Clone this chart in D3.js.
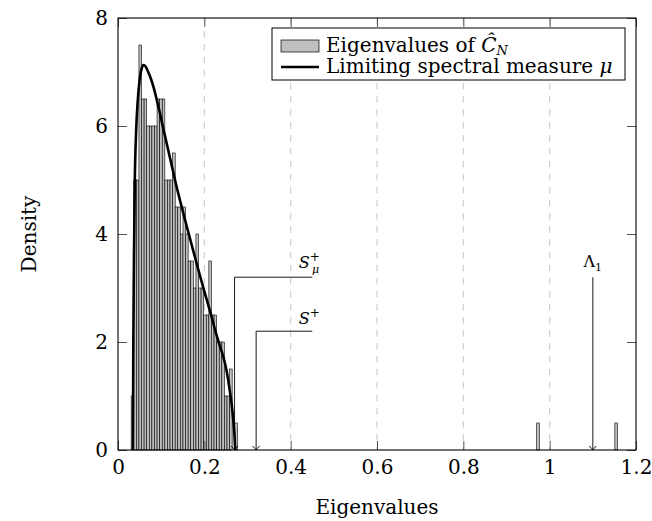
<!DOCTYPE html>
<html>
<head>
<meta charset="utf-8">
<script src="https://cdn.jsdelivr.net/npm/d3@7"></script>
<style>
body { margin: 0; background: #fff; }
text { font-family: "DejaVu Serif", "Liberation Serif", serif; fill: #000; }
</style>
</head>
<body>
<svg id="chart" width="652" height="521"></svg>
<script>
// histogram of the sample eigenvalues (density per bin)
var binStart = 0.0305;
var binWidth = 0.006;
var binHeights = [1, 5, 5, 7.5, 6.5, 6.5, 6, 6, 6, 6, 6.5, 6.5, 6.5, 5, 5, 5, 5.5, 4.5,
    4.5, 4, 4.5, 4, 3.5, 3.5, 3, 4, 3, 3, 2.5, 2.5, 3.5, 2.5, 2.5, 2, 2, 2, 1, 1, 1.5, 0, 0.5];
// isolated eigenvalues
var outlierX = [0.970, 1.151];
var outlierH = [0.5, 0.5];

// limiting spectral density
var curveX = [0.0345, 0.0355, 0.037, 0.039, 0.042, 0.046, 0.050, 0.055, 0.059, 0.064, 0.070,
    0.076, 0.082, 0.090, 0.097, 0.105, 0.115, 0.125, 0.135, 0.145, 0.155, 0.165, 0.175, 0.185,
    0.195, 0.205, 0.215, 0.225, 0.235, 0.245, 0.252, 0.258, 0.263, 0.267, 0.270, 0.2715];
var curveY = [0, 2.0, 3.6, 5.0, 5.9, 6.5, 6.85, 7.07, 7.13, 7.1, 7.0,
    6.88, 6.73, 6.48, 6.24, 5.95, 5.6, 5.25, 4.9, 4.58, 4.27, 3.97, 3.67, 3.37,
    3.08, 2.8, 2.52, 2.22, 1.95, 1.7, 1.45, 1.15, 0.87, 0.56, 0.25, 0];

var xTicks = [0, 0.2, 0.4, 0.6, 0.8, 1, 1.2];
var xTickLabels = ['0', '0.2', '0.4', '0.6', '0.8', '1', '1.2'];
var yTicks = [0, 2, 4, 6, 8];
var gridX = [0.2, 0.4, 0.6, 0.8, 1];

// annotated edges: position, height of the leader, end of the leader
var markX = [0.27, 0.32, 1.1];
var markTop = [3.2, 2.2, 3.2];
var markEnd = [0.45, 0.45, 1.1];

(function () {
    var svg = d3.select('#chart');
    var pl = 118, pt = 18, pr = 636, pb = 450;
    var font = '"DejaVu Serif", "Liberation Serif", serif';

    var x = d3.scaleLinear().domain([0, 1.2]).range([pl, pr]);
    var y = d3.scaleLinear().domain([0, 8]).range([pb, pt]);

    // dashed grid
    svg.append('g').selectAll('line').data(gridX).enter().append('line')
        .attr('x1', function (d) { return x(d); })
        .attr('x2', function (d) { return x(d); })
        .attr('y1', pt).attr('y2', pb)
        .attr('stroke', '#cfcfcf').attr('stroke-width', 1.2)
        .attr('stroke-dasharray', '6.5,6.5');

    // bars
    var bars = binHeights.map(function (h, i) {
        return { x0: binStart + i * binWidth, h: h };
    }).filter(function (d) { return d.h > 0; });
    outlierX.forEach(function (v, i) { bars.push({ x0: v, h: outlierH[i] }); });

    svg.append('g').selectAll('rect').data(bars).enter().append('rect')
        .attr('x', function (d) { return x(d.x0); })
        .attr('width', function (d) { return x(d.x0 + binWidth) - x(d.x0); })
        .attr('y', function (d) { return y(d.h); })
        .attr('height', function (d) { return y(0) - y(d.h); })
        .attr('fill', '#bfbfbf').attr('stroke', '#000').attr('stroke-width', 0.6);

    // density curve
    var line = d3.line()
        .x(function (d) { return x(d[0]); })
        .y(function (d) { return y(d[1]); })
        .curve(d3.curveMonotoneX);
    svg.append('path')
        .datum(curveX.map(function (v, i) { return [v, curveY[i]]; }))
        .attr('d', line)
        .attr('fill', 'none').attr('stroke', '#000').attr('stroke-width', 2.6);

    // leaders with arrows
    var marks = svg.append('g').attr('stroke', '#000').attr('fill', 'none').attr('stroke-width', 0.9);
    markX.forEach(function (v, i) {
        var px = x(v), py = y(0);
        var pts = [[x(markEnd[i]), y(markTop[i])], [px, y(markTop[i])], [px, py]];
        marks.append('path').attr('d', d3.line()(pts));
        marks.append('path')
            .attr('d', 'M' + (px - 3.5) + ',' + (py - 4) + 'Q' + (px - 1) + ',' + (py - 1.5) + ' ' + px + ',' + py +
                'Q' + (px + 1) + ',' + (py - 1.5) + ' ' + (px + 3.5) + ',' + (py - 4));
    });

    // labels of the leaders
    var lab = svg.append('g').style('font-size', '16px');
    var t1 = lab.append('text').attr('x', x(0.419)).attr('y', y(markTop[0]) - 9);
    t1.append('tspan').style('font-style', 'italic').text('S');
    t1.append('tspan').attr('dy', -7).style('font-size', '12px').text('+');
    t1.append('tspan').attr('dx', -8).attr('dy', 12).style('font-size', '11px').style('font-style', 'italic').text('μ');
    var t2 = lab.append('text').attr('x', x(0.419)).attr('y', y(markTop[1]) - 7);
    t2.append('tspan').style('font-style', 'italic').text('S');
    t2.append('tspan').attr('dy', -7).style('font-size', '12px').text('+');
    var t3 = lab.append('text').attr('x', x(markX[2])).attr('y', y(markTop[2]) - 10).attr('text-anchor', 'middle');
    t3.append('tspan').text('Λ');
    t3.append('tspan').attr('dy', 4).style('font-size', '11px').text('1');

    // axes (ticks inside, mirrored)
    var xb = svg.append('g').attr('transform', 'translate(0,' + pb + ')')
        .call(d3.axisBottom(x).tickValues(xTicks).tickSize(-9).tickPadding(10)
            .tickFormat(function (d, i) { return xTickLabels[i]; }));
    var xt = svg.append('g').attr('transform', 'translate(0,' + pt + ')')
        .call(d3.axisTop(x).tickValues(xTicks).tickSize(-9).tickFormat(''));
    var yl = svg.append('g').attr('transform', 'translate(' + pl + ',0)')
        .call(d3.axisLeft(y).tickValues(yTicks).tickSize(-9).tickPadding(10));
    var yr = svg.append('g').attr('transform', 'translate(' + pr + ',0)')
        .call(d3.axisRight(y).tickValues(yTicks).tickSize(-9).tickFormat(''));
    [xb, xt, yl, yr].forEach(function (g) {
        g.select('.domain').remove();
        g.selectAll('line').attr('stroke', '#555').attr('stroke-width', 1);
        g.selectAll('text').style('font-family', font).style('font-size', '20px').attr('fill', '#000');
    });

    // frame
    svg.append('rect').attr('x', pl).attr('y', pt)
        .attr('width', pr - pl).attr('height', pb - pt)
        .attr('fill', 'none').attr('stroke', '#000').attr('stroke-width', 1.1);

    // axis titles
    svg.append('text').attr('x', (pl + pr) / 2).attr('y', 514)
        .attr('text-anchor', 'middle').style('font-size', '20px').text('Eigenvalues');
    svg.append('text').attr('transform', 'translate(36,' + ((pt + pb) / 2) + ') rotate(-90)')
        .attr('text-anchor', 'middle').style('font-size', '20px').text('Density');

    // legend
    var lg = svg.append('g').attr('transform', 'translate(272,28)');
    lg.append('rect').attr('width', 353).attr('height', 52)
        .attr('fill', '#fff').attr('stroke', '#000').attr('stroke-width', 1);
    lg.append('rect').attr('x', 9).attr('y', 12).attr('width', 38).attr('height', 12)
        .attr('fill', '#bfbfbf').attr('stroke', '#000').attr('stroke-width', 0.7);
    lg.append('line').attr('x1', 9).attr('x2', 47).attr('y1', 39).attr('y2', 39)
        .attr('stroke', '#000').attr('stroke-width', 2.6);
    var l1 = lg.append('text').attr('x', 54).attr('y', 24).style('font-size', '20px');
    l1.append('tspan').text('Eigenvalues of ');
    l1.append('tspan').style('font-style', 'italic').text('C\u0302');
    l1.append('tspan').attr('dy', 3).style('font-size', '13px').style('font-style', 'italic').text('N');
    var l2 = lg.append('text').attr('x', 54).attr('y', 45).style('font-size', '20px');
    l2.append('tspan').text('Limiting spectral measure ');
    l2.append('tspan').style('font-style', 'italic').text('μ');
})();
</script>
</body>
</html>
